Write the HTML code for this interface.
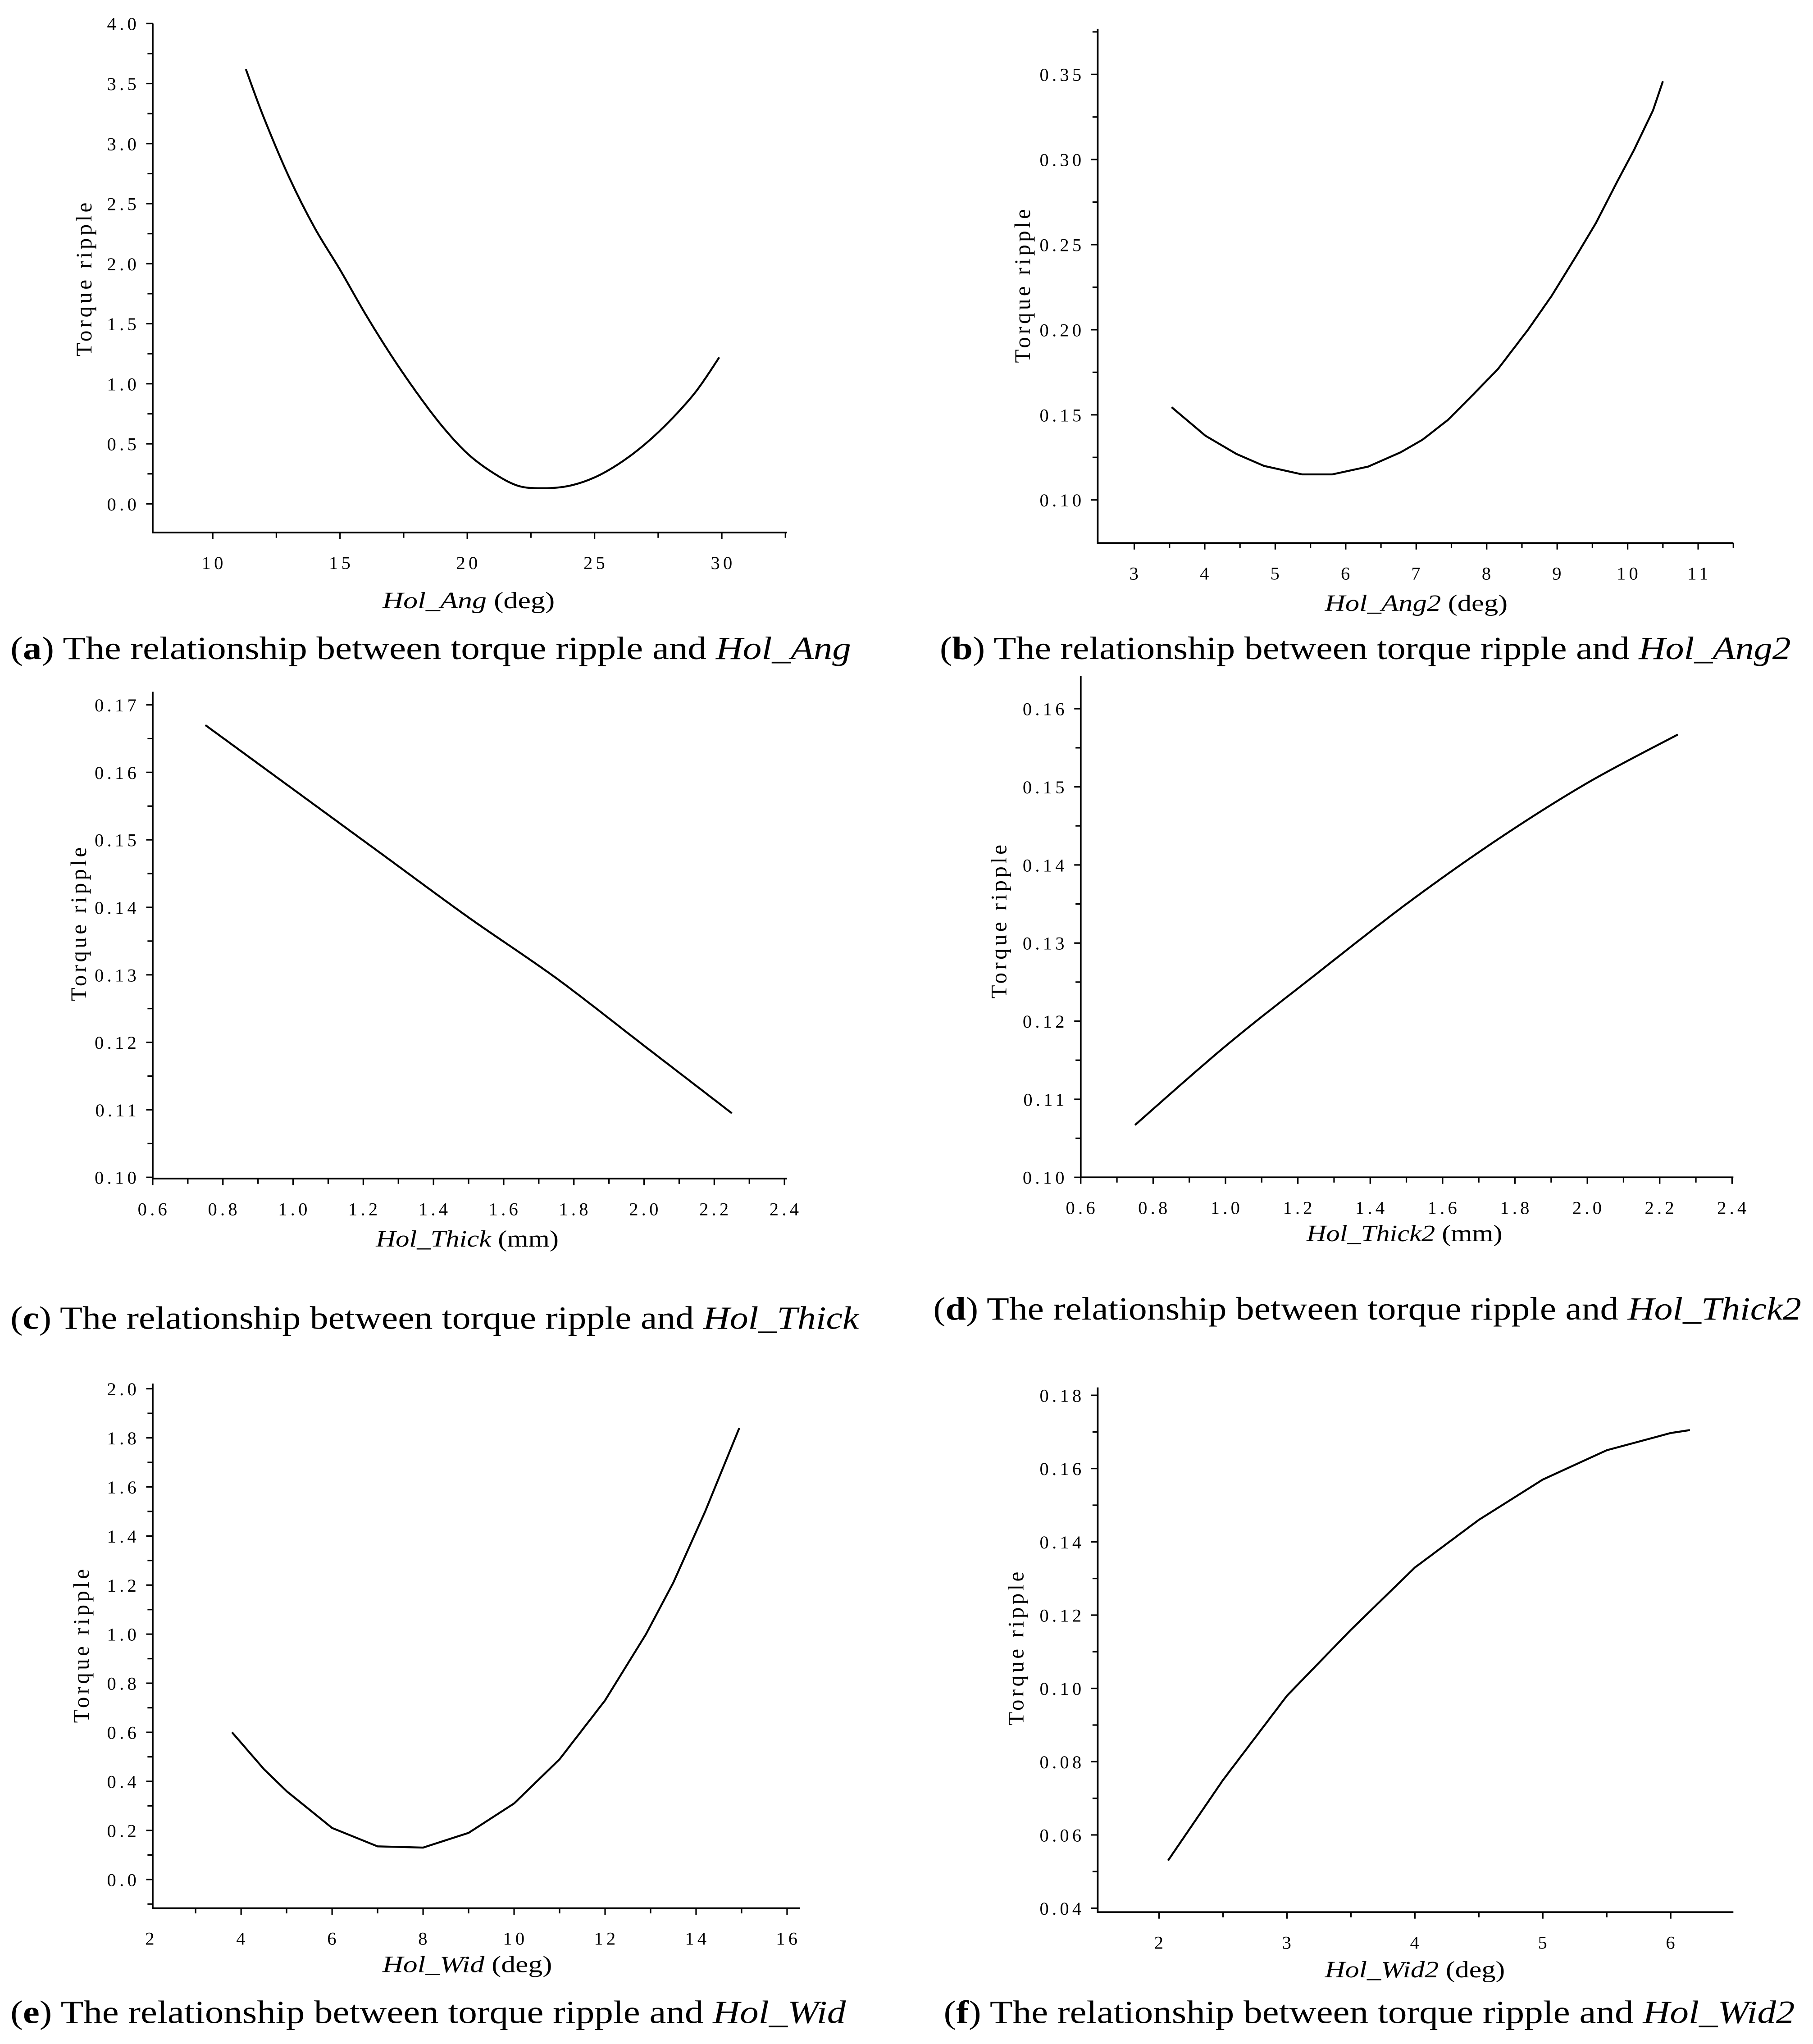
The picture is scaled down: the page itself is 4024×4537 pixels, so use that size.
<!DOCTYPE html>
<html><head><meta charset="utf-8"><style>
html,body{margin:0;padding:0;background:#fff;}
svg{display:block;}
.tk{font-family:"Liberation Serif",serif;font-size:14px;fill:#000;letter-spacing:2.5px;}
.yt{font-family:"Liberation Serif",serif;font-size:17px;fill:#000;letter-spacing:2.2px;}
.xt{font-family:"Liberation Serif",serif;font-size:18px;fill:#000;}
.cap{font-family:"Liberation Serif",serif;font-size:25px;fill:#000;}
</style></head><body>
<svg id="fig" width="4024" height="4537" viewBox="0 0 1389 1566" xmlns="http://www.w3.org/2000/svg">
<rect width="1389" height="1566" fill="#fff"/>
</svg>
<script>
// Panel a
const aX=[11.3,12,13,14,15,16,17,18,19,20,21,22,23,24,25,26,27,28,29,29.9];
const aY=[3.62,3.22,2.72,2.3,1.95,1.58,1.24,0.93,0.65,0.42,0.26,0.15,0.13,0.15,0.22,0.34,0.5,0.7,0.94,1.22];
const aXTicks=[10,15,20,25,30];
const aYTicks=[0,0.5,1,1.5,2,2.5,3,3.5,4];
// Panel b
const bX=[3.53,4.01,4.45,4.84,5.38,5.81,6.32,6.78,7.09,7.45,7.81,8.16,8.59,8.92,9.28,9.55,9.85,10.09,10.36,10.5];
const bY=[0.1545,0.1377,0.127,0.120,0.115,0.115,0.1196,0.128,0.1354,0.147,0.162,0.1769,0.2002,0.2198,0.244,0.2627,0.2869,0.3056,0.3289,0.346];
const bXTicks=[3,4,5,6,7,8,9,10,11];
const bYTicks=[0.10,0.15,0.20,0.25,0.30,0.35];
// Panel c
const cX=[0.75,1.0,1.25,1.5,1.75,2.0,2.25];
const cY=[0.167,0.1575,0.148,0.1385,0.1295,0.1195,0.1095];
const cXTicks=[0.6,0.8,1.0,1.2,1.4,1.6,1.8,2.0,2.2,2.4];
const cYTicks=[0.10,0.11,0.12,0.13,0.14,0.15,0.16,0.17];
// Panel d
const dX=[0.75,1.0,1.25,1.5,1.75,2.0,2.25];
const dY=[0.1067,0.1168,0.126,0.135,0.1432,0.1505,0.1567];
const dXTicks=[0.6,0.8,1.0,1.2,1.4,1.6,1.8,2.0,2.2,2.4];
const dYTicks=[0.10,0.11,0.12,0.13,0.14,0.15,0.16];
// Panel e
const eX=[3.8,4.5,5,6,7,8,9,10,11,12,12.9,13.5,14.2,14.95];
const eY=[0.60,0.45,0.36,0.21,0.135,0.13,0.19,0.31,0.49,0.73,1.0,1.21,1.5,1.84];
const eXTicks=[2,4,6,8,10,12,14,16];
const eYTicks=[0,0.2,0.4,0.6,0.8,1.0,1.2,1.4,1.6,1.8,2.0];
// Panel f
const fX=[2.07,2.5,3,3.5,4,4.5,5,5.5,6,6.15];
const fY=[0.053,0.075,0.098,0.116,0.133,0.146,0.157,0.165,0.1697,0.1705];
const fXTicks=[2,3,4,5,6];
const fYTicks=[0.04,0.06,0.08,0.10,0.12,0.14,0.16,0.18];

const NS="http://www.w3.org/2000/svg";
const svg=document.getElementById('fig');
function mk(tag,parent){const e=document.createElementNS(NS,tag);parent.appendChild(e);return e;}

function smoothPath(P){
  let d=`M${P[0][0].toFixed(2)},${P[0][1].toFixed(2)}`;
  for(let i=0;i<P.length-1;i++){
    const p0=P[Math.max(0,i-1)],p1=P[i],p2=P[i+1],p3=P[Math.min(P.length-1,i+2)];
    const c1=[p1[0]+(p2[0]-p0[0])/6,p1[1]+(p2[1]-p0[1])/6];
    const c2=[p2[0]-(p3[0]-p1[0])/6,p2[1]-(p3[1]-p1[1])/6];
    d+=`C${c1[0].toFixed(2)},${c1[1].toFixed(2)} ${c2[0].toFixed(2)},${c2[1].toFixed(2)} ${p2[0].toFixed(2)},${p2[1].toFixed(2)}`;
  }
  return d;
}

function panel(id,xs,ys,xt,yt,cfg){
  const g=mk('g',svg);
  
  
  const sx=v=>cfg.x0+(v-cfg.xa)*(cfg.x1-cfg.x0)/(cfg.xb-cfg.xa);
  const sy=v=>cfg.y0-(v-cfg.ya)*(cfg.y0-cfg.y1)/(cfg.yb-cfg.ya);
  const ax=mk('path',g);
  
  
  ax.setAttribute('d',`M${cfg.L},${cfg.T}V${cfg.B}H${cfg.R}`);
  ax.setAttribute('stroke','#000');ax.setAttribute('stroke-width','1.3');ax.setAttribute('fill','none');
  let d='';
  const xstep=xt[1]-xt[0];
  for(let i=0;i<xt.length;i++){
    const v=xt[i];const px=sx(v);
    if(px>=cfg.L-0.5&&px<=cfg.R+0.5) d+=`M${px},${cfg.B}v5`;
    const t=mk('text',g);
    
    
    t.setAttribute('class','tk');t.setAttribute('x',px+1);t.setAttribute('y',cfg.B+28);t.setAttribute('text-anchor','middle');
    t.textContent=cfg.xdec?v.toFixed(cfg.xdec):String(v);
  }
  for(let v=xt[0]-xstep/2;v<=xt[xt.length-1]+xstep;v+=xstep){const px=sx(v);if(px>cfg.L+1&&px<=cfg.R+0.5)d+=`M${px},${cfg.B}v4`;}
  const ystep=yt[1]-yt[0];
  for(let i=0;i<yt.length;i++){
    const v=yt[i];const py=sy(v);
    d+=`M${cfg.L},${py}h-5`;
    const t=mk('text',g);
    
    
    t.setAttribute('class','tk');t.setAttribute('x',cfg.L-10);t.setAttribute('y',py+5);t.setAttribute('text-anchor','end');
    t.textContent=v.toFixed(cfg.ydec);
  }
  for(let v=yt[0]-ystep/2;v<=yt[yt.length-1]+ystep;v+=ystep){const py=sy(v);if(py<cfg.B-1&&py>=cfg.T-0.5)d+=`M${cfg.L},${py}h-4`;}
  const tk=mk('path',g);
  
  
  tk.setAttribute('d',d);tk.setAttribute('stroke','#000');tk.setAttribute('stroke-width','1.1');
  const ln=mk('path',g);
  
  
  const P=xs.map((x,i)=>[sx(x),sy(ys[i])]);
  ln.setAttribute('d',cfg.smooth?smoothPath(P):P.map((p,i)=>(i?'L':'M')+p[0].toFixed(2)+','+p[1].toFixed(2)).join(''));
  ln.setAttribute('stroke','#000');ln.setAttribute('stroke-width','1.5');ln.setAttribute('fill','none');
  const yl=mk('text',g);
  
  
  yl.setAttribute('class','yt');yl.setAttribute('text-anchor','middle');
  yl.setAttribute('transform',`translate(${cfg.ytx},${cfg.yty}) rotate(-90)`);
  yl.setAttribute('textLength','120');yl.setAttribute('lengthAdjust','spacingAndGlyphs');
  yl.textContent='Torque ripple';
  const xl=mk('text',g);
  
  
  xl.setAttribute('class','xt');xl.setAttribute('x',cfg.xtx-cfg.xtw/2);xl.setAttribute('y',cfg.xty);
  xl.setAttribute('textLength',cfg.xtw);xl.setAttribute('lengthAdjust','spacingAndGlyphs');
  xl.innerHTML=`<tspan font-style="italic">${cfg.var}</tspan>  (${cfg.unit})`;
  const cp=mk('text',g);
  
  
  cp.setAttribute('class','cap');cp.setAttribute('x',cfg.cx);cp.setAttribute('y',cfg.cy);
  cp.setAttribute('textLength',cfg.cw);cp.setAttribute('lengthAdjust','spacingAndGlyphs');
  cp.innerHTML=`(<tspan font-weight="bold">${id}</tspan>) The relationship between torque ripple and <tspan font-style="italic">${cfg.var}</tspan>`;
}

panel('a',aX,aY,aXTicks,aYTicks,{smooth:true,L:117,R:603,T:18,B:408,xa:10,xb:30,x0:163,x1:553,ya:0,yb:4,y0:386,y1:18,ydec:1,ytx:70,yty:213,xtx:359,xty:466,xtw:132,var:'Hol_Ang',unit:'deg',cx:8,cy:505,cw:644});
panel('b',bX,bY,bXTicks,bYTicks,{smooth:false,L:841,R:1328,T:22,B:416,xa:3,xb:11,x0:869,x1:1301,ya:0.10,yb:0.35,y0:383,y1:57,ydec:2,ytx:789,yty:218,xtx:1085,xty:468,xtw:140,var:'Hol_Ang2',unit:'deg',cx:720,cy:505,cw:652});
panel('c',cX,cY,cXTicks,cYTicks,{smooth:true,L:117,R:603,T:530,B:903,xa:0.6,xb:2.4,x0:117,x1:601,ya:0.10,yb:0.17,y0:902,y1:540,ydec:2,xdec:1,ytx:66,yty:707,xtx:358,xty:955,xtw:140,var:'Hol_Thick',unit:'mm',cx:8,cy:1018,cw:650});
panel('d',dX,dY,dXTicks,dYTicks,{smooth:true,L:828,R:1328,T:518,B:902,xa:0.6,xb:2.4,x0:828,x1:1327,ya:0.10,yb:0.16,y0:902,y1:543,ydec:2,xdec:1,ytx:771,yty:705,xtx:1076,xty:951,xtw:150,var:'Hol_Thick2',unit:'mm',cx:715,cy:1011,cw:665});
panel('e',eX,eY,eXTicks,eYTicks,{smooth:false,L:117,R:613,T:1060,B:1462,xa:2,xb:16,x0:115,x1:603,ya:0,yb:2,y0:1440,y1:1064,ydec:1,ytx:68,yty:1260,xtx:358,xty:1511,xtw:130,var:'Hol_Wid',unit:'deg',cx:8,cy:1550,cw:640});
panel('f',fX,fY,fXTicks,fYTicks,{smooth:false,L:841,R:1328,T:1063,B:1465,xa:2,xb:6,x0:888,x1:1280,ya:0.04,yb:0.18,y0:1462,y1:1069,ydec:2,ytx:784,yty:1262,xtx:1084,xty:1515,xtw:138,var:'Hol_Wid2',unit:'deg',cx:723,cy:1550,cw:652});
</script>
</body></html>
